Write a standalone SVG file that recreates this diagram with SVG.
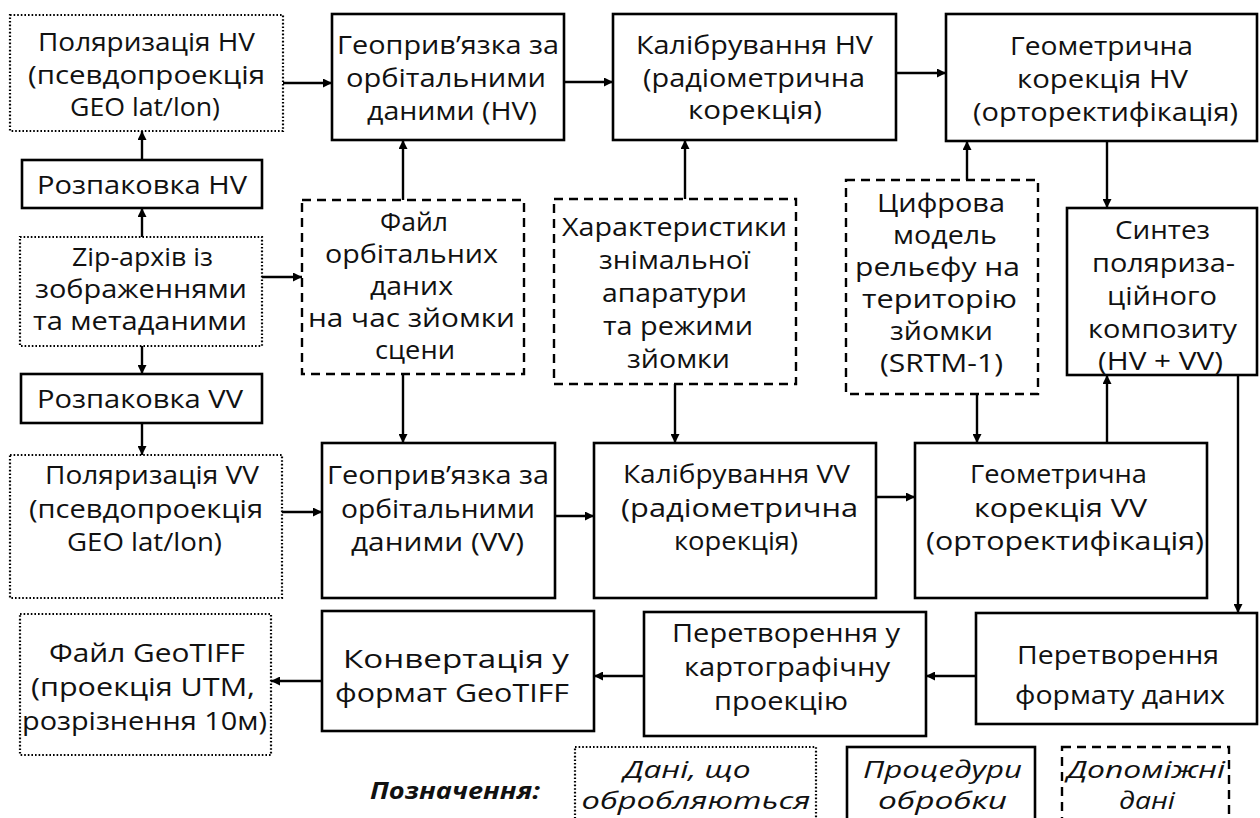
<svg xmlns="http://www.w3.org/2000/svg" width="1260" height="818" viewBox="0 0 1260 818">
<defs>
<style>
.box{fill:#fff;stroke:#000;stroke-width:2.6}
.dot{fill:#fff;stroke:#000;stroke-width:2.2;stroke-dasharray:1.6 2}
.dash{fill:#fff;stroke:#000;stroke-width:2.4;stroke-dasharray:9 6}
.c{fill:none;stroke:#000;stroke-width:2.4;marker-end:url(#ah)}
text{font-family:"Open Sans","Noto Sans",sans-serif;font-size:25px;text-anchor:middle;fill:#111}
.i{font-style:italic;font-size:23px}
.lg{font-style:italic;font-weight:bold;font-size:24px}
</style>
<marker id="ah" viewBox="0 0 10 10" refX="10" refY="5" markerWidth="11" markerHeight="9" orient="auto" markerUnits="userSpaceOnUse"><path d="M0,0 L10,5 L0,10 z" fill="#000"/></marker>
</defs>
<rect width="1260" height="818" fill="#fff"/>

<g id="connectors">
<path class="c" d="M283,83 H332"/>
<path class="c" d="M564,82 H613"/>
<path class="c" d="M896,73 H946"/>
<path class="c" d="M142,160 V131"/>
<path class="c" d="M142,237 V208"/>
<path class="c" d="M262,277 H302"/>
<path class="c" d="M142,346 V374"/>
<path class="c" d="M142,423 V455"/>
<path class="c" d="M403,200 V140"/>
<path class="c" d="M403,374 V443"/>
<path class="c" d="M685,199 V140"/>
<path class="c" d="M675,384 V443"/>
<path class="c" d="M967,180 V141"/>
<path class="c" d="M977,394 V443"/>
<path class="c" d="M1107,141 V208"/>
<path class="c" d="M1107,443 V375"/>
<path class="c" d="M1238,375 V613"/>
<path class="c" d="M282,512 H322"/>
<path class="c" d="M555,516 H594"/>
<path class="c" d="M876,497 H915"/>
<path class="c" d="M976,676 H926"/>
<path class="c" d="M644,676 H594"/>
<path class="c" d="M322,681 H271"/>
</g>

<g id="polHV">
<rect class="dot" x="10" y="15" width="273" height="116"/>
<text x="146.5" y="51" textLength="217" lengthAdjust="spacingAndGlyphs">Поляризація HV</text>
<text x="146.5" y="84" textLength="237" lengthAdjust="spacingAndGlyphs">(псевдопроекція</text>
<text x="145" y="116" textLength="150" lengthAdjust="spacingAndGlyphs">GEO lat/lon)</text>
</g>
<g id="geoHV">
<rect class="box" x="332" y="14" width="232" height="126"/>
<text x="448" y="54" textLength="222" lengthAdjust="spacingAndGlyphs">Геоприв’язка за</text>
<text x="446" y="87" textLength="200" lengthAdjust="spacingAndGlyphs">орбітальними</text>
<text x="452" y="120" textLength="170" lengthAdjust="spacingAndGlyphs">даними (HV)</text>
</g>
<g id="calHV">
<rect class="box" x="613" y="14" width="283" height="126"/>
<text x="754.5" y="54" textLength="237" lengthAdjust="spacingAndGlyphs">Калібрування HV</text>
<text x="754" y="87" textLength="222" lengthAdjust="spacingAndGlyphs">(радіометрична</text>
<text x="755" y="119" textLength="134" lengthAdjust="spacingAndGlyphs">корекція)</text>
</g>
<g id="geomHV">
<rect class="box" x="946" y="14" width="311" height="127"/>
<text x="1101.5" y="55" textLength="183" lengthAdjust="spacingAndGlyphs">Геометрична</text>
<text x="1102.5" y="88" textLength="171" lengthAdjust="spacingAndGlyphs">корекція HV</text>
<text x="1105.5" y="121" textLength="265" lengthAdjust="spacingAndGlyphs">(орторектифікація)</text>
</g>
<g id="rozpHV">
<rect class="box" x="22" y="160" width="240" height="48"/>
<text x="142" y="194" textLength="210" lengthAdjust="spacingAndGlyphs">Розпаковка HV</text>
</g>
<g id="zip">
<rect class="dot" x="20" y="237" width="242" height="109"/>
<text x="142.5" y="266" textLength="141" lengthAdjust="spacingAndGlyphs">Zip-архів із</text>
<text x="141" y="298" textLength="212" lengthAdjust="spacingAndGlyphs">зображеннями</text>
<text x="140" y="330" textLength="214" lengthAdjust="spacingAndGlyphs">та метаданими</text>
</g>
<g id="rozpVV">
<rect class="box" x="21" y="374" width="241" height="49"/>
<text x="140" y="408" textLength="206" lengthAdjust="spacingAndGlyphs">Розпаковка VV</text>
</g>
<g id="orbit">
<rect class="dash" x="302" y="200" width="222" height="174"/>
<text x="414" y="231" textLength="68" lengthAdjust="spacingAndGlyphs">Файл</text>
<text x="411.5" y="263" textLength="173" lengthAdjust="spacingAndGlyphs">орбітальних</text>
<text x="411.5" y="295" textLength="83" lengthAdjust="spacingAndGlyphs">даних</text>
<text x="411.5" y="327" textLength="207" lengthAdjust="spacingAndGlyphs">на час зйомки</text>
<text x="415" y="359" textLength="80" lengthAdjust="spacingAndGlyphs">сцени</text>
</g>
<g id="chars">
<rect class="dash" x="554" y="199" width="242" height="185"/>
<text x="674.5" y="236" textLength="225" lengthAdjust="spacingAndGlyphs">Характеристики</text>
<text x="674.5" y="269" textLength="151" lengthAdjust="spacingAndGlyphs">знімальної</text>
<text x="674.5" y="302" textLength="145" lengthAdjust="spacingAndGlyphs">апаратури</text>
<text x="678" y="335" textLength="150" lengthAdjust="spacingAndGlyphs">та режими</text>
<text x="678.5" y="368" textLength="103" lengthAdjust="spacingAndGlyphs">зйомки</text>
</g>
<g id="dem">
<rect class="dash" x="846" y="180" width="192" height="214"/>
<text x="941" y="212" textLength="128" lengthAdjust="spacingAndGlyphs">Цифрова</text>
<text x="945" y="244" textLength="104" lengthAdjust="spacingAndGlyphs">модель</text>
<text x="937.5" y="276" textLength="165" lengthAdjust="spacingAndGlyphs">рельєфу на</text>
<text x="939.5" y="308" textLength="155" lengthAdjust="spacingAndGlyphs">територію</text>
<text x="941.5" y="340" textLength="103" lengthAdjust="spacingAndGlyphs">зйомки</text>
<text x="941.5" y="372" textLength="123" lengthAdjust="spacingAndGlyphs">(SRTM-1)</text>
</g>
<g id="synth">
<rect class="box" x="1067" y="208" width="190" height="167"/>
<text x="1162.5" y="239" textLength="95" lengthAdjust="spacingAndGlyphs">Синтез</text>
<text x="1163.5" y="272" textLength="143" lengthAdjust="spacingAndGlyphs">поляриза-</text>
<text x="1162" y="305" textLength="110" lengthAdjust="spacingAndGlyphs">ційного</text>
<text x="1162.5" y="338" textLength="149" lengthAdjust="spacingAndGlyphs">композиту</text>
<text x="1160.5" y="370" textLength="125" lengthAdjust="spacingAndGlyphs">(HV + VV)</text>
</g>
<g id="polVV">
<rect class="dot" x="10" y="455" width="272" height="143"/>
<text x="152" y="484" textLength="214" lengthAdjust="spacingAndGlyphs">Поляризація VV</text>
<text x="146" y="518" textLength="234" lengthAdjust="spacingAndGlyphs">(псевдопроекція</text>
<text x="144.5" y="551" textLength="155" lengthAdjust="spacingAndGlyphs">GEO lat/lon)</text>
</g>
<g id="geoVV">
<rect class="box" x="322" y="443" width="233" height="155"/>
<text x="438" y="484" textLength="222" lengthAdjust="spacingAndGlyphs">Геоприв’язка за</text>
<text x="438" y="518" textLength="194" lengthAdjust="spacingAndGlyphs">орбітальними</text>
<text x="437.5" y="551" textLength="173" lengthAdjust="spacingAndGlyphs">даними (VV)</text>
</g>
<g id="calVV">
<rect class="box" x="594" y="443" width="282" height="155"/>
<text x="736.5" y="483" textLength="227" lengthAdjust="spacingAndGlyphs">Калібрування VV</text>
<text x="739.5" y="517" textLength="237" lengthAdjust="spacingAndGlyphs">(радіометрична</text>
<text x="736" y="550" textLength="124" lengthAdjust="spacingAndGlyphs">корекція)</text>
</g>
<g id="geomVV">
<rect class="box" x="915" y="443" width="292" height="155"/>
<text x="1058.5" y="483" textLength="177" lengthAdjust="spacingAndGlyphs">Геометрична</text>
<text x="1060.5" y="517" textLength="173" lengthAdjust="spacingAndGlyphs">корекція VV</text>
<text x="1065" y="550" textLength="278" lengthAdjust="spacingAndGlyphs">(орторектифікація)</text>
</g>
<g id="format">
<rect class="box" x="976" y="613" width="281" height="111"/>
<text x="1118" y="664" textLength="202" lengthAdjust="spacingAndGlyphs">Перетворення</text>
<text x="1120" y="704" textLength="210" lengthAdjust="spacingAndGlyphs">формату даних</text>
</g>
<g id="carto">
<rect class="box" x="644" y="612" width="282" height="124"/>
<text x="786" y="642" textLength="228" lengthAdjust="spacingAndGlyphs">Перетворення у</text>
<text x="787" y="676" textLength="206" lengthAdjust="spacingAndGlyphs">картографічну</text>
<text x="781" y="710" textLength="134" lengthAdjust="spacingAndGlyphs">проекцію</text>
</g>
<g id="convert">
<rect class="box" x="322" y="611" width="272" height="120"/>
<text x="456" y="668" textLength="226" lengthAdjust="spacingAndGlyphs">Конвертація у</text>
<text x="452" y="702" textLength="234" lengthAdjust="spacingAndGlyphs">формат GeoTIFF</text>
</g>
<g id="geotiff">
<rect class="dot" x="20" y="614" width="251" height="141"/>
<text x="147" y="662" textLength="196" lengthAdjust="spacingAndGlyphs">Файл GeoTIFF</text>
<text x="143" y="696" textLength="224" lengthAdjust="spacingAndGlyphs">(проекція UTM,</text>
<text x="144.5" y="730" textLength="245" lengthAdjust="spacingAndGlyphs">розрізнення 10м)</text>
</g>

<g id="legend">
<text class="lg" x="455" y="799" textLength="170" lengthAdjust="spacingAndGlyphs">Позначення:</text>
<rect class="dot" x="575" y="747" width="241" height="90"/>
<text class="i" x="687" y="778" textLength="127" lengthAdjust="spacingAndGlyphs">Дані, що</text>
<text class="i" x="696" y="809" textLength="229" lengthAdjust="spacingAndGlyphs">обробляються</text>
<rect class="box" x="847" y="747" width="188" height="90"/>
<text class="i" x="942.5" y="778" textLength="159" lengthAdjust="spacingAndGlyphs">Процедури</text>
<text class="i" x="942.5" y="809" textLength="129" lengthAdjust="spacingAndGlyphs">обробки</text>
<rect class="dash" x="1062" y="747" width="167" height="90"/>
<text class="i" x="1146" y="778" textLength="158" lengthAdjust="spacingAndGlyphs">Допоміжні</text>
<text class="i" x="1147" y="809" textLength="56" lengthAdjust="spacingAndGlyphs">дані</text>
</g>
</svg>
